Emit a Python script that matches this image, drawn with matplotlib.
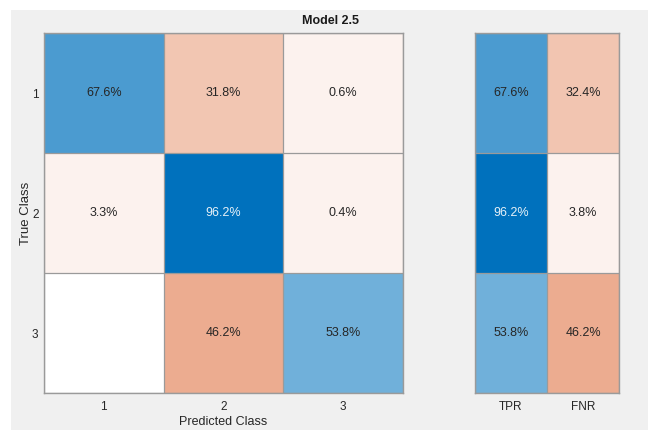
import numpy as np
import matplotlib
matplotlib.use("Agg")
import matplotlib.pyplot as plt
from matplotlib.patches import Rectangle

plt.rcParams['font.family'] = ['Liberation Sans', 'DejaVu Sans']

classes = ["1", "2", "3"]
summary_labels = ["TPR", "FNR"]
# row-normalized confusion matrix (percent)
conf_pct = np.array([
    [67.6, 31.8, 0.6],
    [3.3, 96.2, 0.4],
    [0.0, 46.2, 53.8],
])
tpr = [67.6, 96.2, 53.8]
fnr = [32.4, 3.8, 46.2]

W, H = 651, 430
fig = plt.figure(figsize=(W / 100, H / 100), dpi=100)
fig.patch.set_facecolor("white")

# light gray panel behind the chart
fig.add_artist(Rectangle((11 / W, 0), (648 - 11) / W, 1 - 10 / H,
                         transform=fig.transFigure, facecolor="#f0f0f0",
                         edgecolor="none", zorder=-10))

blue = np.array([0, 114, 189]) / 255
orange = np.array([217, 83, 25]) / 255
vmax = max(conf_pct.max(), max(tpr))


def shade(v, good):
    base = blue if good else orange
    if v <= 0:
        return np.ones(3)
    f = max(v / vmax, 0.07)
    return 1 - f * (1 - base)


def ax_box(x0, y0, x1, y1):
    return [x0 / W, 1 - y1 / H, (x1 - x0) / W, (y1 - y0) / H]


edge = "#9a9a9a"
text_dark = "#262626"


def draw_grid(ax, values, good_mask):
    nr, nc = values.shape
    rgb = np.zeros((nr, nc, 3))
    for i in range(nr):
        for j in range(nc):
            rgb[i, j] = shade(values[i, j], good_mask[i, j])
    ax.imshow(rgb, aspect="auto", interpolation="nearest",
              extent=(-0.5, nc - 0.5, nr - 0.5, -0.5))
    for i in range(nr):
        for j in range(nc):
            v = values[i, j]
            if v <= 0:
                continue
            f = v / vmax
            col = "#e8f1f8" if (good_mask[i, j] and f > 0.85) else text_dark
            ax.text(j, i, f"{v:.1f}%", ha="center", va="center",
                    fontsize=9, color=col)
    ax.set_xticks(np.arange(nc + 1) - 0.5, minor=True)
    ax.set_yticks(np.arange(nr + 1) - 0.5, minor=True)
    ax.grid(which="minor", color=edge, linewidth=0.9)
    ax.tick_params(which="minor", length=0)
    ax.tick_params(which="major", length=0, labelsize=8.5, colors="#262626", pad=6)
    for s in ax.spines.values():
        s.set_color(edge)
        s.set_linewidth(1.0)


ax = fig.add_axes(ax_box(44, 33, 403, 393))
mask = np.eye(3, dtype=bool)
draw_grid(ax, conf_pct, mask)
ax.set_xticks(range(3))
ax.set_xticklabels(classes)
ax.set_yticks(range(3))
ax.set_yticklabels(classes)
ax.tick_params(axis="y", pad=4)
ax.set_xlabel("Predicted Class", fontsize=9, color="#262626", labelpad=2)
ax.set_ylabel("True Class", fontsize=9.5, color="#262626", labelpad=0)

ax2 = fig.add_axes(ax_box(475, 33, 619, 393))
summary = np.column_stack([tpr, fnr])
mask2 = np.zeros((3, 2), dtype=bool)
mask2[:, 0] = True
draw_grid(ax2, summary, mask2)
ax2.set_xticks(range(2))
ax2.set_xticklabels(summary_labels)
ax2.set_yticks([])

fig.text(331 / W, 1 - 21 / H, "Model 2.5", ha="center", va="center",
         fontsize=9, fontweight="bold", color="#1a1a1a")

fig.savefig("out.png", dpi=100)
